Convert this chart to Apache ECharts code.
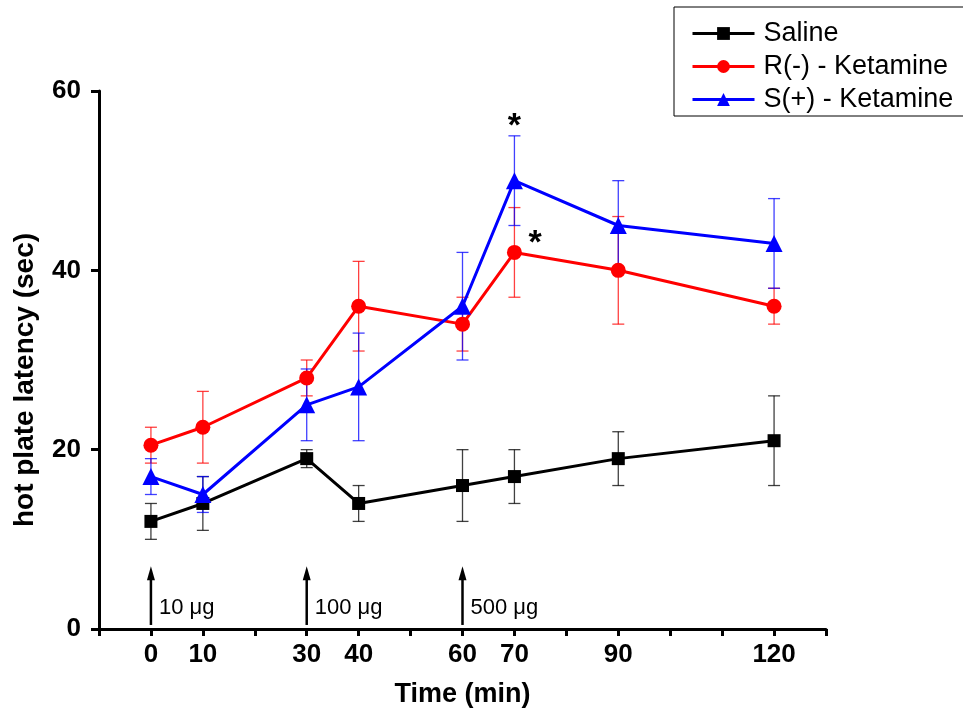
<!DOCTYPE html>
<html>
<head>
<meta charset="utf-8">
<script src="https://cdn.jsdelivr.net/npm/echarts@6/dist/echarts.min.js"></script>
<style>
  html, body { margin: 0; padding: 0; background: #fff; }
  #chart { width: 963px; height: 713px; }
</style>
</head>
<body>
<div id="chart"></div>
<script>
// time points (min) and mean latencies with error half-widths
const times = [0, 10, 30, 40, 60, 70, 90, 120];
const saline = [12, 14, 19, 14, 16, 17, 19, 21];
const salineErr = [2, 3, 1, 2, 4, 3, 3, 5];
const rKet = [20.5, 22.5, 28, 36, 34, 42, 40, 36];
const rKetErr = [2, 4, 2, 5, 3, 5, 6, 2];
const sKet = [17, 15, 25, 27, 36, 50, 45, 43];
const sKetErr = [2, 2, 4, 6, 6, 5, 5, 5];
const tickLabels = [0, 10, 30, 40, 60, 70, 90, 120];
const doseTimes = [0, 30, 60];
const doseLabels = ['10 μg', '100 μg', '500 μg'];
const starPoints = [[70, 56], [74, 43]];

const FONT = 'Liberation Sans, Arial, sans-serif';
const chart = echarts.init(document.getElementById('chart'));

function pairs(vals) {
    return times.map(function (t, i) { return [t, vals[i]]; });
}

function errorSeries(color, vals, errs) {
    return {
        type: 'custom',
        name: 'err-' + color,
        silent: true,
        z: 1,
        data: times.map(function (t, i) { return [t, vals[i] - errs[i], vals[i] + errs[i]]; }),
        renderItem: function (params, api) {
            const lo = api.coord([api.value(0), api.value(1)]);
            const hi = api.coord([api.value(0), api.value(2)]);
            const w = 6;
            const st = { stroke: color, lineWidth: 1.3, opacity: 0.75 };
            return {
                type: 'group',
                children: [
                    { type: 'line', shape: { x1: lo[0], y1: lo[1], x2: hi[0], y2: hi[1] }, style: st },
                    { type: 'line', shape: { x1: lo[0] - w, y1: lo[1], x2: lo[0] + w, y2: lo[1] }, style: st },
                    { type: 'line', shape: { x1: hi[0] - w, y1: hi[1], x2: hi[0] + w, y2: hi[1] }, style: st }
                ]
            };
        }
    };
}

function lineSeries(name, color, vals, symbol, size) {
    return {
        type: 'line',
        name: name,
        data: pairs(vals),
        symbol: symbol,
        symbolSize: size,
        z: 3,
        lineStyle: { color: color, width: 3 },
        itemStyle: { color: color },
        emphasis: { disabled: true }
    };
}

const option = {
    animation: false,
    backgroundColor: '#fff',
    grid: { left: 99, right: 137, top: 91, bottom: 82 },
    legend: {
        data: ['Saline', 'R(-) - Ketamine', 'S(+) - Ketamine'],
        orient: 'vertical',
        left: 674,
        top: 7,
        padding: [13, 18, 3, 17],
        itemWidth: 62,
        itemHeight: 16,
        itemGap: 6,
        borderColor: '#000',
        borderWidth: 1,
        lineStyle: { width: 3 },
        textStyle: { fontSize: 27, color: '#000', fontFamily: FONT, padding: [0, 0, 0, 4] }
    },
    xAxis: {
        type: 'value',
        min: -10,
        max: 130,
        interval: 10,
        name: 'Time (min)',
        nameLocation: 'middle',
        nameGap: 52,
        nameTextStyle: { fontSize: 27, fontWeight: 'bold', color: '#000', fontFamily: FONT },
        splitLine: { show: false },
        axisLine: { onZero: false, lineStyle: { color: '#000', width: 3 } },
        axisTick: { length: 7, lineStyle: { color: '#000', width: 3 } },
        axisLabel: {
            margin: 13,
            fontSize: 26,
            fontWeight: 'bold',
            color: '#000',
            fontFamily: FONT,
            formatter: function (v) { return tickLabels.indexOf(v) >= 0 ? String(v) : ''; }
        }
    },
    yAxis: {
        type: 'value',
        min: 0,
        max: 60,
        interval: 20,
        name: 'hot plate latency (sec)',
        nameLocation: 'middle',
        nameGap: 60,
        nameTextStyle: { fontSize: 28, fontWeight: 'bold', color: '#000', fontFamily: FONT, padding: [0, 40, 0, 0] },
        splitLine: { show: false },
        axisLine: { show: true, onZero: false, lineStyle: { color: '#000', width: 3 } },
        axisTick: { show: true, length: 8, lineStyle: { color: '#000', width: 3 } },
        axisLabel: { margin: 18, fontSize: 26, fontWeight: 'bold', color: '#000', fontFamily: FONT }
    },
    series: [
        errorSeries('#000000', saline, salineErr),
        errorSeries('#ff0000', rKet, rKetErr),
        errorSeries('#0000ff', sKet, sKetErr),
        lineSeries('Saline', '#000000', saline, 'rect', 13),
        lineSeries('R(-) - Ketamine', '#ff0000', rKet, 'circle', 15),
        lineSeries('S(+) - Ketamine', '#0000ff', sKet, 'triangle', 17),
        {
            type: 'custom',
            name: 'dose',
            silent: true,
            z: 2,
            data: doseTimes.map(function (t, i) { return [t, i]; }),
            renderItem: function (params, api) {
                const base = api.coord([api.value(0), 0.45]);
                const tip = api.coord([api.value(0), 7]);
                return {
                    type: 'group',
                    children: [
                        { type: 'line', shape: { x1: base[0], y1: base[1], x2: tip[0], y2: tip[1] + 10 },
                          style: { stroke: '#000', lineWidth: 2.5 } },
                        { type: 'polygon', shape: { points: [[tip[0], tip[1]], [tip[0] - 4, tip[1] + 14], [tip[0] + 4, tip[1] + 14]] },
                          style: { fill: '#000' } },
                        { type: 'text', x: base[0] + 8, y: (base[1] + tip[1]) / 2 + 12,
                          style: { text: doseLabels[api.value(1)], fill: '#000', fontSize: 22, fontFamily: FONT, verticalAlign: 'middle' } }
                    ]
                };
            }
        },
        {
            type: 'custom',
            name: 'stars',
            silent: true,
            z: 4,
            data: starPoints,
            renderItem: function (params, api) {
                const p = api.coord([api.value(0), api.value(1)]);
                return {
                    type: 'text', x: p[0], y: p[1],
                    style: { text: '*', fill: '#000', fontSize: 34, fontWeight: 'bold', fontFamily: FONT,
                             align: 'center', verticalAlign: 'middle' }
                };
            }
        }
    ]
};

chart.setOption(option);
</script>
</body>
</html>
